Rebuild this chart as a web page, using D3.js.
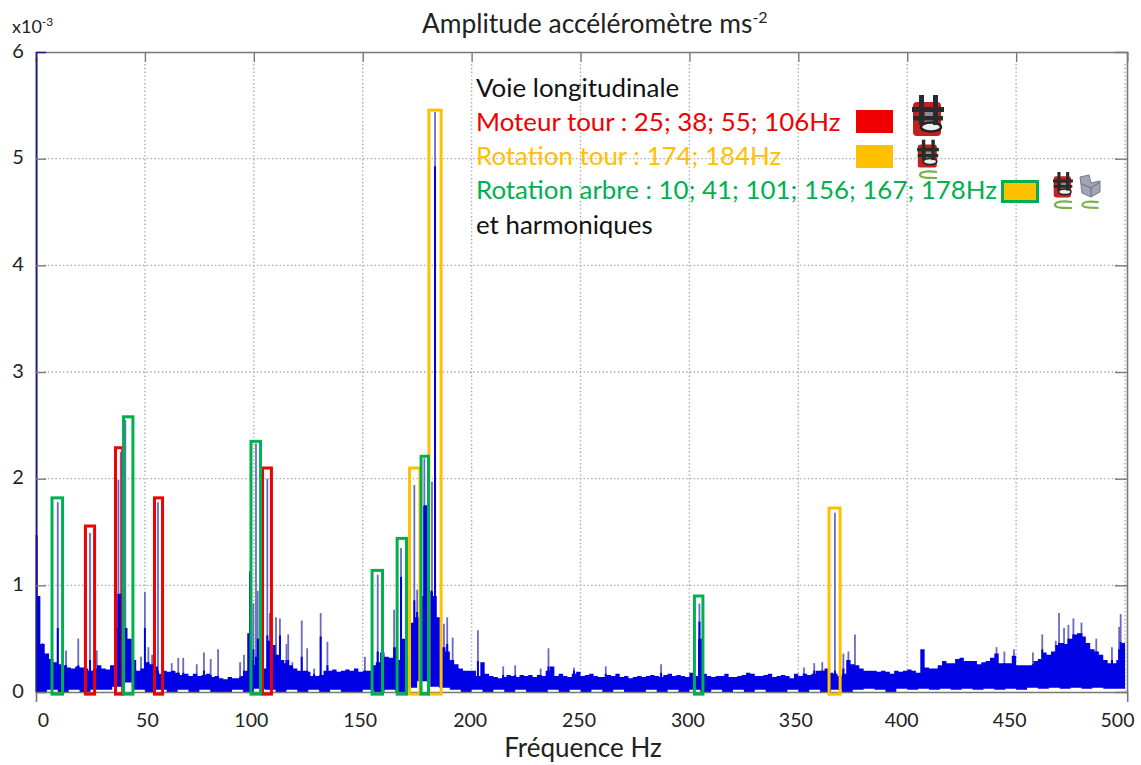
<!DOCTYPE html>
<html><head><meta charset="utf-8">
<script src="https://cdnjs.cloudflare.com/ajax/libs/d3/7.8.5/d3.min.js"></script>
<style>html,body{margin:0;padding:0;background:#fff}svg{display:block}text{font-family:Lato,"Open Sans",sans-serif}</style>
</head><body><div id="c"></div>
<script>
// ---- data (amplitudes in x10^-3, frequencies in Hz) ----
const xTicks=[0,50,100,150,200,250,300,350,400,450,500];
const yTicks=[0,1,2,3,4,5,6];
// upper envelope of the noise, one value every 2 Hz from 0 to 500
const envelope=[
.9,.45,.36,.31,.28,.26,.25,.23,.22,.24,.23,.22,.2,.21,.25,.22,.21,.25,.6,.92,
.6,.5,.3,.2,.22,.28,.26,.24,.17,.2,.19,.2,.18,.16,.17,.15,.17,.15,.16,.17,
.14,.15,.13,.12,.14,.13,.13,.15,.2,.3,.25,.5,.22,.48,.44,.35,.3,.27,.25,.22,
.2,.2,.19,.15,.15,.16,.2,.2,.21,.19,.2,.21,.2,.22,.19,.2,.2,.25,.28,.37,
.33,.32,.42,.3,.5,.35,.65,.7,.9,1.75,.95,.9,.7,.42,.38,.3,.26,.22,.2,.2,
.2,.15,.28,.17,.15,.14,.13,.14,.16,.15,.14,.16,.15,.16,.14,.16,.15,.2,.24,.15,
.17,.15,.14,.17,.19,.15,.16,.17,.15,.14,.14,.16,.15,.17,.14,.15,.13,.14,.15,.14,
.15,.16,.15,.14,.16,.17,.15,.16,.15,.14,.18,.15,.5,.17,.15,.14,.15,.15,.17,.14,
.14,.15,.16,.18,.17,.15,.15,.16,.17,.14,.15,.16,.15,.13,.17,.15,.17,.16,.17,.2,
.2,.22,.18,.17,.15,.17,.3,.26,.25,.22,.2,.2,.2,.19,.2,.19,.17,.2,.19,.2,
.21,.2,.18,.4,.23,.22,.22,.25,.29,.27,.27,.31,.32,.29,.29,.29,.26,.28,.29,.32,
.36,.27,.27,.27,.34,.25,.25,.25,.25,.29,.31,.37,.35,.38,.44,.46,.45,.5,.54,.55,
.52,.46,.4,.38,.35,.3,.27,.27,.3,.46,.25];
// lower edge of the noise, one value every 5 Hz from 0 to 500
const floorLine=[
0,.02,0,.02,0,.02,.02,.05,.09,.02,0,.02,0,.02,0,.02,0,0,.02,0,
.03,.02,0,.02,0,.02,0,.02,0,0,.02,0,.02,0,.04,.1,.05,.04,.02,0,
.02,0,.02,0,.02,0,0,.02,0,.02,0,.02,0,.02,0,0,.02,0,.02,0,
.02,0,.02,0,.02,0,.02,0,0,.02,0,.02,0,.02,0,.02,.03,.02,0,.03,
.02,.03,.02,.03,.02,.03,.02,.03,.02,.03,.02,.04,.03,.04,.03,.04,.03,.04,.03,.03,.03];
// narrow peaks
const spikeHz=[.3,3,10,13.8,19.4,24.8,27.9,37.8,38.9,41,45.5,48.2,50,51.6,53.3,56,62.3,65.3,67.6,73.8,77.1,80.2,83.6,93.7,95.5,97.5,98.3,99.8,101,101.8,106.2,107.4,110.2,112,115,115.8,117.7,122,124.5,127.7,130.7,133.8,151,156.9,164.4,167.6,173.7,175,178.3,181.8,183.2,187.3,188.8,191.3,202.9,214.5,220,231.7,235.3,247,261.6,287,304.6,352.6,357.3,361,366.8,370.7,373,376,441,444.6,449,457.7,462,468.2,469.7,472,474,476.3,480,486.8,494,497.3,498];
const spikeTop=[5.95,.46,1.78,.39,.5,1.49,.39,1.99,2.25,2.55,.3,.33,.94,.42,.35,1.78,.27,.32,.32,.26,.37,.31,.4,.28,.35,.55,1.13,.83,2.33,.95,2,.74,.7,.69,.45,.54,.28,.67,.41,.22,.74,.47,.33,1.1,.77,1.35,1.94,.96,2.19,1.97,5.44,.64,.7,.51,.58,.24,.25,.22,.41,.23,.24,.26,.83,.23,.27,.28,1.68,.36,.38,.54,.42,.38,.4,.37,.54,.48,.74,.6,.63,.69,.65,.5,.42,.61,.73];
const spikeCore=[1.47,.3,.6,.25,.25,.3,.22,.92,.89,.58,.22,.2,.6,.28,.22,.2,.17,.18,.18,.15,.2,.16,.15,.14,.2,.55,1.13,.4,.33,.5,.53,.44,.35,.53,.3,.3,.2,.33,.2,.17,.52,.25,.2,.38,.35,1.08,.86,.75,1.74,.94,4.93,.4,.45,.3,.29,.16,.16,.16,.24,.2,.17,.18,.66,.17,.2,.2,.2,.22,.3,.22,.28,.27,.27,.26,.4,.38,.46,.45,.5,.54,.55,.38,.3,.4,.47];
// highlight boxes
const boxLow =[7.35,22.7,36.5,54.4,104,171.5,180.4,364.1,40.2,98.7,154.3,165.8,176.8,302.3];
const boxHigh=[12.2,26.9,39.8,58.1,108.1,176.3,186,369.2,44.5,103.1,159.1,170.1,180.2,306.2];
const boxTop =[1.82,1.556,2.29,1.82,2.1,2.1,5.455,1.725,2.58,2.35,1.14,1.44,2.21,.9];
const boxKind=["g","r","r","r","r","y","y","y","g","g","g","g","g","g"];
const legendLines=[["Voie longitudinale","k"],["Moteur tour : 25; 38; 55; 106Hz","r"],["Rotation tour : 174; 184Hz","y"],["Rotation arbre : 10; 41; 101; 156; 167; 178Hz","g"],["et harmoniques","k"]];
const labelShift=[7,2,-3,-3,-2,-2,-2,-3,-6,-7,-8];

// ---- layout ----
const W=1141,H=765,L=36,R=1127,T=52,B=692;
const colors={r:"#f00000",y:"#ffc000",g:"#00b050",k:"#111"};
const x=d3.scaleLinear().domain([0,501]).range([L,1127.2]);
const y=d3.scaleLinear().domain([0,6]).range([B,T]);
const svg=d3.select("#c").append("svg").attr("width",W).attr("height",H);
svg.append("defs").append("filter").attr("id","soft").append("feGaussianBlur").attr("stdDeviation",.45);

// grid
const grid=svg.append("g").attr("stroke","#a8a8a8").attr("stroke-width",1.4).attr("stroke-dasharray","1.4 2.4");
grid.selectAll("line.v").data(xTicks.slice(1)).join("line").attr("x1",x).attr("x2",x).attr("y1",T+12).attr("y2",B);
grid.selectAll("line.h").data(yTicks.slice(1,6)).join("line").attr("x1",L+8).attr("x2",R-8).attr("y1",y).attr("y2",y);

// noise: light peaks behind, solid band, dark cores on top
const plot=svg.append("g").attr("filter","url(#soft)");
plot.selectAll("line.sp").data(spikeHz).join("line").attr("class","sp")
  .attr("x1",d=>x(d)).attr("x2",d=>x(d)).attr("y1",y(0)).attr("y2",(d,i)=>y(spikeTop[i]))
  .attr("stroke","#6a6ac4").attr("stroke-width",1.8);
plot.append("path").attr("fill","#0000e4").attr("d",
  d3.area().x((d,i)=>x(i*2)).y0(y(0)).y1(d=>y(d)).curve(d3.curveStepAfter)(envelope));
plot.selectAll("line.co").data(spikeHz).join("line").attr("class","co")
  .attr("x1",d=>x(d)).attr("x2",d=>x(d)).attr("y1",y(0)).attr("y2",(d,i)=>y(spikeCore[i]))
  .attr("stroke","#0000e4").attr("stroke-width",2);
plot.append("path").attr("fill","#fff").attr("d",
  d3.area().x((d,i)=>x(i*5)).y0(y(0)).y1(d=>y(d)).curve(d3.curveStepAfter)(floorLine));

// frame and axes
const frame=svg.append("g");
const axB=d3.axisBottom(x).tickValues(xTicks).tickSize(10).tickFormat(d=>d);
const axT=d3.axisTop(x).tickValues(xTicks.slice(1,-1)).tickSize(-10).tickFormat("");
const axL=d3.axisLeft(y).tickValues(yTicks).tickSize(-10).tickFormat(d=>d);
const axR=d3.axisRight(y).tickValues(yTicks.slice(1,-1)).tickSize(-12).tickFormat("");
const gT=frame.append("g").attr("transform",`translate(0,${T})`).call(axT);
const gR=frame.append("g").attr("transform",`translate(${R},0)`).call(axR);
const gL=frame.append("g").attr("transform",`translate(${L},0)`).call(axL);
const gB=frame.append("g").attr("transform",`translate(0,${B})`).call(axB);
[gT,gR,gL,gB].forEach(g=>{g.selectAll(".domain").attr("stroke","#777").attr("stroke-width",1.6);
  g.selectAll(".tick line").attr("stroke","#777").attr("stroke-width",1.4);});
gB.selectAll(".tick line").attr("y2",0);
gL.selectAll(".tick line").filter(d=>d===0||d===6).attr("x2",0);
gL.select(".domain").attr("stroke","#1a1a80").attr("stroke-width",1.6);
gB.selectAll(".tick text").attr("dx",(d,i)=>labelShift[i]).attr("y",0).attr("dy",30)
  .attr("fill","#222").attr("font-size",19.5).attr("dominant-baseline","middle").attr("font-family","Lato");
gL.selectAll(".tick text").attr("x",-18).attr("text-anchor","middle").attr("dy",0)
  .attr("fill","#222").attr("font-size",20).attr("dominant-baseline","middle").attr("font-family","Lato");

// boxes
svg.append("g").selectAll("rect").data(boxLow).join("rect")
  .attr("x",d=>x(d)).attr("width",(d,i)=>x(boxHigh[i])-x(d))
  .attr("y",(d,i)=>y(boxTop[i])).attr("height",(d,i)=>y(-.02)-y(boxTop[i]))
  .attr("fill","none").attr("stroke-width",3).attr("stroke",(d,i)=>colors[boxKind[i]]);

// titles
const title=svg.append("text").attr("x",422).attr("y",33).attr("font-size",26.4).attr("fill","#222");
title.append("tspan").text("Amplitude accéléromètre ms");
title.append("tspan").text("-2").attr("font-size",16).attr("dy",-10);
const exp=svg.append("text").attr("x",12).attr("y",33).attr("font-size",18).attr("fill","#222");
exp.append("tspan").text("x10");
exp.append("tspan").text("-3").attr("font-size",12).attr("dy",-7);
svg.append("text").attr("x",583).attr("y",757).attr("text-anchor","middle").attr("font-size",26).attr("fill","#222").text("Fréquence Hz");

// legend
svg.append("g").selectAll("text").data(legendLines).join("text")
  .attr("x",476).attr("y",(d,i)=>96.7+i*34.2).attr("font-size",25.9)
  .attr("fill",d=>colors[d[1]]).text(d=>d[0]);
svg.append("rect").attr("x",856).attr("y",110).attr("width",37).attr("height",23).attr("fill",colors.r);
svg.append("rect").attr("x",856).attr("y",145).attr("width",37).attr("height",23).attr("fill",colors.y);
svg.append("rect").attr("x",1002.5).attr("y",181.5).attr("width",35).attr("height",20).attr("fill",colors.y).attr("stroke",colors.g).attr("stroke-width",3);

// small pictograms
function tower(cx,cy,s){
  const g=svg.append("g").attr("transform",`translate(${cx},${cy}) scale(${s})`).attr("filter","url(#soft)");
  g.append("rect").attr("x",-15).attr("y",-14).attr("width",28).attr("height",34).attr("rx",4).attr("fill","#c0201c");
  g.append("rect").attr("x",-3).attr("y",-4).attr("width",10).attr("height",12).attr("fill","#8a8a92");
  g.append("ellipse").attr("cx",3).attr("cy",11).attr("rx",10).attr("ry",4.5).attr("fill","#eee").attr("stroke","#222").attr("stroke-width",2.4);
  g.append("rect").attr("x",-9).attr("y",-21).attr("width",5).attr("height",30).attr("fill","#2a2a2a");
  g.append("rect").attr("x",5).attr("y",-21).attr("width",5).attr("height",30).attr("fill","#2a2a2a");
  g.append("rect").attr("x",-16).attr("y",-9).attr("width",32).attr("height",5).attr("fill","#2a2a2a");
  g.append("rect").attr("x",-15).attr("y",0).attr("width",30).attr("height",4.5).attr("fill","#2a2a2a");
}
function spring(cx,cy,s){
  svg.append("path").attr("transform",`translate(${cx},${cy}) scale(${s})`).attr("fill","none").attr("stroke","#7cae4a").attr("stroke-width",2.2)
    .attr("d","M9,-3 C2,-4 -8,-4 -8,0 C-8,3 2,3 9,3");
}
tower(928,116,1);
tower(928,154,.68);
spring(928,175,1);
tower(1063,185,.62);
spring(1063,205,1);
spring(1090,205,.95);
const m=svg.append("g").attr("transform","translate(1090,186)").attr("filter","url(#soft)");
m.append("path").attr("d","M-10,-9 L-1,-11 L1,-3 L10,-5 L10,6 L1,11 L-8,7 Z").attr("fill","#a4a4b8").attr("stroke","#77778a");
m.append("path").attr("d","M-8,-2 L1,2 L1,10 M1,2 L10,-4").attr("fill","none").attr("stroke","#6a6a7e");
</script></body></html>
